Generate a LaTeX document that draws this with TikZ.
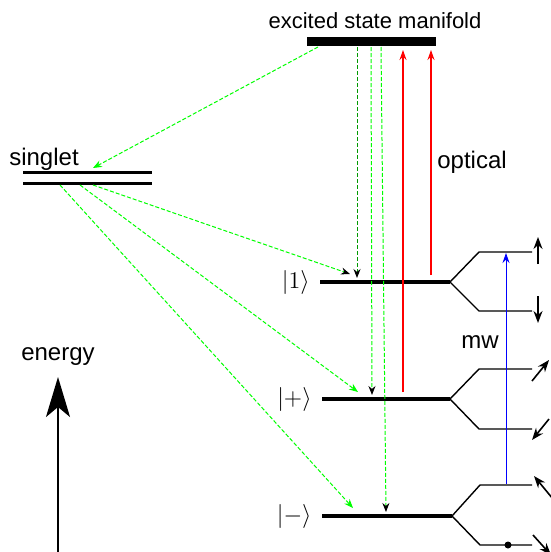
\documentclass[tikz,border=0pt]{standalone}
\usepackage{fontspec}
\setmainfont{Liberation Sans}
\usetikzlibrary{arrows.meta,positioning,calc}
\tikzset{
	level/.style={line width=2pt},
	singletline/.style={line width=1.5pt},
	sublevel/.style={line width=0.7pt},
	manifold/.style={line width=4.5pt},
	decay/.style={green,dash pattern=on 2pt off 1pt,line width=0.5pt,-{Stealth[length=4.5pt,width=3.5pt]}},
	decayb/.style={decay,-{Stealth[length=4.5pt,width=3.5pt,black]}},
	pump/.style={draw=red,line width=0.55pt,-{Stealth[length=5pt,width=3.5pt,red]}},
	mwave/.style={draw=blue,line width=0.45pt,-{Stealth[length=5pt,width=3.5pt,blue]}},
	spin/.style={line width=0.8pt,-{Stealth[length=6pt,width=4.5pt]}},
	energyarrow/.style={line width=1pt,-{Stealth[length=20pt,width=12pt,inset=5pt]}},
	lab/.style={font=\fontsize{12}{14}\selectfont,anchor=base,inner sep=0},
	ket/.style={font=\fontsize{12}{14}\selectfont,inner sep=0},
	dot/.style={circle,fill=black,inner sep=0,minimum size=3.5pt}
}

\begin{document}
\begin{tikzpicture}[x=0.5pt,y=-0.5pt]
	\useasboundingbox (0,0) rectangle (551,552);

	%%% excited state manifold
	\coordinate (exL) at (307,41);
	\coordinate (exR) at (436,41);
	\draw[manifold] (exL) -- (exR);
	\node[lab,font=\fontsize{11}{13}\selectfont] (extext) at (375,28) {excited state manifold};

	%%% singlet
	\coordinate (s1L) at (23,172);
	\coordinate (s1R) at (152,172);
	\coordinate (s2L) at (23,183);
	\coordinate (s2R) at (152,183);
	\draw[singletline] (s1L) -- (s1R);
	\draw[singletline] (s2L) -- (s2R);
	\node[lab] (singlettext) at (44,165) {singlet};

	%%% |1>
	\coordinate (oneL) at (320,282);
	\coordinate (oneR) at (450,282);
	\coordinate (oneU) at (479,252);
	\coordinate (oneUR) at (532,252);
	\coordinate (oneD) at (479,311);
	\coordinate (oneDR) at (532,311);
	\draw[level] (oneL) -- (oneR);
	\draw[sublevel] (oneUR) -- (oneU) -- (oneR) -- (oneD) -- (oneDR);
	\node[ket,left=5pt of oneL] (ketone) {$|1\rangle$};

	%%% |+>
	\coordinate (plusL) at (322,399);
	\coordinate (plusR) at (450,399);
	\coordinate (plusU) at (479,369);
	\coordinate (plusUR) at (532,369);
	\coordinate (plusD) at (479,429);
	\coordinate (plusDR) at (532,429);
	\draw[level] (plusL) -- (plusR);
	\draw[sublevel] (plusUR) -- (plusU) -- (plusR) -- (plusD) -- (plusDR);
	\node[ket,left=5pt of plusL] (ketplus) {$|{+}\rangle$};

	%%% |->
	\coordinate (minL) at (322,516);
	\coordinate (minR) at (452,516);
	\coordinate (minU) at (480,485);
	\coordinate (minUR) at (532,485);
	\coordinate (minD) at (480,545);
	\coordinate (minDR) at (532,545);
	\draw[level] (minL) -- (minR);
	\draw[sublevel] (minUR) -- (minU) -- (minR) -- (minD) -- (minDR);
	\node[ket,left=5pt of minL] (ketmin) {$|{-}\rangle$};
	\node[dot] (spindot) at (508,545) {};

	%%% spins
	\draw[spin] (538,264) -- (538,237);
	\draw[spin] (538,296) -- (538,323);
	\draw[spin] (532,381) -- (549,360);
	\draw[spin] (549,419) -- (532,440);
	\draw[spin] (553,499) -- (534,476);
	\draw[spin] (533,535) -- (551,555);

	%%% optical pumping
	\coordinate (pa) at (403,392);
	\coordinate (pat) at (403,50);
	\coordinate (pb) at (431,275);
	\coordinate (pbt) at (431,50);
	\draw[pump] (pa) -- (pat);
	\draw[pump] (pb) -- (pbt);
	\node[lab] (optical) at (472,168) {optical};

	%%% microwave
	\coordinate (mwa) at (506,484);
	\coordinate (mwb) at (506,253);
	\draw[mwave] (mwa) -- (mwb);
	\node[lab] (mw) at (480,348) {mw};

	%%% decay from excited state
	\coordinate (da) at (357,47);
	\coordinate (dat) at (357,278);
	\coordinate (db) at (371,47);
	\coordinate (dbt) at (372,395);
	\coordinate (dc) at (381,47);
	\coordinate (dct) at (386,512);
	\draw[decayb,green!60!black] (da) -- (dat);
	\draw[decayb] (db) -- (dbt);
	\draw[decayb] (dc) -- (dct);
	\coordinate (ds) at (318,47);
	\coordinate (dst) at (93,168);
	\draw[decay] (ds) -- (dst);

	%%% decay from singlet
	\coordinate (sa) at (93,185);
	\coordinate (sat) at (350,274);
	\coordinate (sb) at (80,185);
	\coordinate (sbt) at (358,392);
	\coordinate (sc) at (60,185);
	\coordinate (sct) at (353,508);
	\draw[decayb] (sa) -- (sat);
	\draw[decay] (sb) -- (sbt);
	\draw[decay] (sc) -- (sct);

	%%% energy
	\coordinate (ebot) at (58,560);
	\coordinate (etop) at (58,377);
	\draw[energyarrow] (ebot) -- (etop);
	\node[lab] (energy) at (58,360) {energy};

\end{tikzpicture}
\end{document}
